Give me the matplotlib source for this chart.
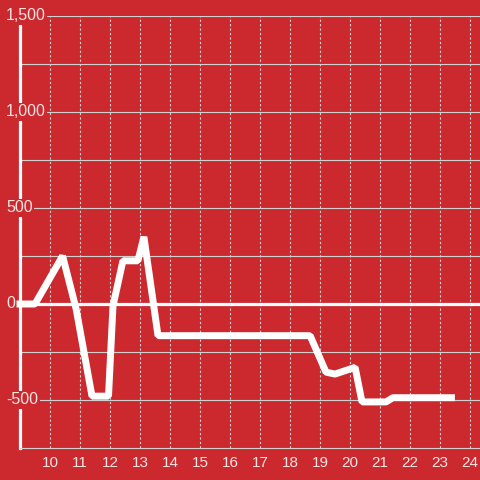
import matplotlib
matplotlib.use("Agg")
import matplotlib.pyplot as plt
import matplotlib.transforms as mtransforms

# data
xs = [9.0, 9.5, 10.42, 10.87, 11.4, 11.95, 12.1, 12.43, 12.93, 13.13, 13.6,
      18.67, 19.2, 19.5, 20.17, 20.4, 21.2, 21.43, 23.38]
ys = [0, 0, 250, -25, -480, -480, -10, 225, 225, 350, -165,
      -165, -355, -365, -330, -510, -510, -488, -488]

x_ticks = list(range(10, 25))
y_ticks = [-500, 0, 500, 1000, 1500]
y_labels = ["-500", "0", "500", "1,000", "1,500"]
y_grid = [-750, -500, -250, 0, 250, 500, 750, 1000, 1250, 1500]

red = "#cc292e"
grid_col = "#d5d0d0"
text_col = "#f5e4e4"

fig = plt.figure(figsize=(4.8, 4.8), dpi=100, facecolor=red)
ax = fig.add_axes([20 / 480, 32 / 480, 460 / 480, 432 / 480], facecolor=red)
ax.set_xlim(9, 24.333)
ax.set_ylim(-750, 1500)

# grid
for g in y_grid:
    if g == 0 or g == -750:
        continue
    ax.axhline(g, color=grid_col, lw=0.8, zorder=1)
for t in x_ticks:
    ax.axvline(t, color=grid_col, lw=0.8, ls=(0, (2, 2)), zorder=1)
ax.axhline(0, color="white", lw=2.3, zorder=2)

# the series
ax.plot(xs, ys, color="white", lw=5, solid_joinstyle="bevel",
        solid_capstyle="projecting", zorder=4, clip_on=False)

# spines
for s in ["top", "right"]:
    ax.spines[s].set_visible(False)
ax.spines["bottom"].set_color(grid_col)
ax.spines["bottom"].set_linewidth(0.8)
ax.spines["left"].set_color("white")
ax.spines["left"].set_linewidth(2.3)
ax.spines["left"].set_bounds(-750, 1458)

# ticks
ax.set_xticks(x_ticks)
ax.set_xticklabels([str(t) for t in x_ticks], color=text_col, fontsize=11,
                   family="Liberation Sans")
ax.tick_params(axis="x", length=0, pad=6)
ax.set_yticks([])

# y labels sit over the spine on a red box
trans = mtransforms.blended_transform_factory(fig.transFigure, ax.transData)
for v, lab in zip(y_ticks, y_labels):
    ax.text(6 / 480, v, lab, transform=trans, ha="left", va="center",
            color=text_col, fontsize=11.5, family="Liberation Sans", zorder=6,
            bbox=dict(facecolor=red, edgecolor="none", pad=1.2))

fig.savefig("out.png", dpi=100, facecolor=red)
